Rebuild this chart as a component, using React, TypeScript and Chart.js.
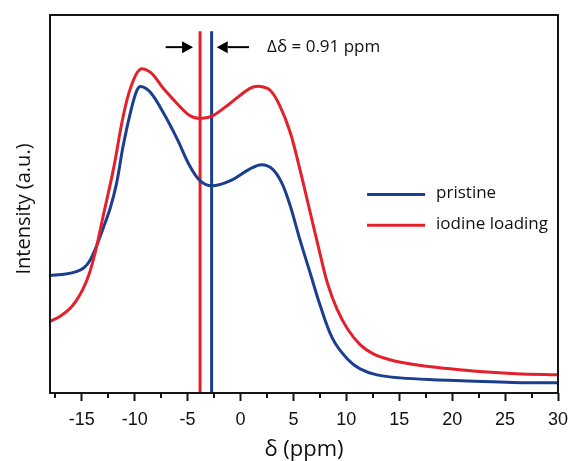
import React, { useEffect, useRef } from "react";
import { Chart, registerables } from "chart.js";
Chart.register(...registerables);

// ---- data ----
const pristineX = [-18, -16.5, -15.5, -14.8, -14.2, -13.6, -13.0, -12.3, -11.7, -11.1, -10.4, -9.8, -9.4, -8.5, -7.3, -6.0, -4.8, -3.8, -2.7, -1.0, 0.9, 2.0, 3.0, 3.9, 4.7, 5.6, 6.6, 7.5, 8.7, 10.1, 11.3, 12.9, 15.1, 18.2, 21.4, 24.5, 27.0, 30];
const pristineY = [0.311, 0.315, 0.321, 0.331, 0.352, 0.389, 0.434, 0.49, 0.556, 0.652, 0.742, 0.8, 0.811, 0.795, 0.742, 0.673, 0.601, 0.561, 0.548, 0.561, 0.593, 0.604, 0.593, 0.556, 0.495, 0.407, 0.316, 0.234, 0.144, 0.09, 0.064, 0.048, 0.04, 0.035, 0.032, 0.029, 0.027, 0.027];
const iodineX = [-18, -17, -16.1, -15.5, -14.9, -14.3, -13.7, -13.0, -12.0, -11.1, -10.4, -9.5, -8.5, -7.3, -6.0, -4.8, -3.8, -2.6, -1.0, 0.9, 1.85, 2.8, 3.7, 4.7, 5.6, 6.6, 7.5, 8.2, 9.1, 10.1, 11.3, 12.5, 14.1, 16.7, 19.8, 22.9, 26, 30];
const iodineY = [0.189, 0.204, 0.224, 0.245, 0.274, 0.315, 0.375, 0.465, 0.593, 0.73, 0.806, 0.856, 0.848, 0.806, 0.766, 0.734, 0.726, 0.734, 0.766, 0.806, 0.811, 0.801, 0.761, 0.689, 0.593, 0.476, 0.37, 0.292, 0.223, 0.17, 0.128, 0.104, 0.088, 0.074, 0.064, 0.056, 0.051, 0.048];
const seriesLabels = ["pristine", "iodine loading"];
const peakShifts = [-2.73, -3.82]; // pristine, iodine loading
const shiftLabel = "Δδ = 0.91 ppm";
const xTickValues = [-15, -10, -5, 0, 5, 10, 15, 20, 25, 30];
const xMinorTicks = [-17.5, -12.5, -7.5, -2.5, 2.5, 7.5, 12.5, 17.5, 22.5, 27.5];
const yAxisTitle = "Intensity (a.u.)";

const BLUE = "#1b3f8e";
const RED = "#e4202a";
const INK = "#151515";

const toPoints = (xs: number[], ys: number[]) => xs.map((x, i) => ({ x, y: ys[i] }));

const annotations = {
  id: "annotations",
  afterDatasetsDraw(chart: any) {
    const { ctx, chartArea, scales } = chart;
    const xs = scales.x;
    const ys = scales.y;
    ctx.save();
    // frame
    ctx.strokeStyle = INK;
    ctx.lineWidth = 2;
    ctx.strokeRect(chartArea.left, chartArea.top, chartArea.right - chartArea.left, chartArea.bottom - chartArea.top);
    // minor ticks
    ctx.beginPath();
    xMinorTicks.forEach((v) => {
      const px = Math.round(xs.getPixelForValue(v));
      ctx.moveTo(px, chartArea.bottom);
      ctx.lineTo(px, chartArea.bottom + 5);
    });
    ctx.stroke();

    // y axis title
    ctx.save();
    ctx.translate(24, 209);
    ctx.rotate(-Math.PI / 2);
    ctx.fillStyle = "#111";
    ctx.font = "20px 'Open Sans'";
    ctx.textAlign = "center";
    ctx.textBaseline = "middle";
    ctx.fillText(yAxisTitle, 0, 0);
    ctx.restore();

    // arrows
    const ay = ys.getPixelForValue(0.915);
    const drawArrow = (fromX: number, toX: number) => {
      const x1 = xs.getPixelForValue(fromX);
      const x2 = xs.getPixelForValue(toX);
      const dir = Math.sign(x2 - x1);
      const head = 11;
      ctx.strokeStyle = "#000";
      ctx.fillStyle = "#000";
      ctx.lineWidth = 2;
      ctx.beginPath();
      ctx.moveTo(x1, ay);
      ctx.lineTo(x2 - dir * head, ay);
      ctx.stroke();
      ctx.beginPath();
      ctx.moveTo(x2, ay);
      ctx.lineTo(x2 - dir * head, ay - 6);
      ctx.lineTo(x2 - dir * head, ay + 6);
      ctx.closePath();
      ctx.fill();
    };
    drawArrow(-7.07, -4.48);
    drawArrow(0.81, -2.25);
    ctx.fillStyle = "#111";
    ctx.font = "17px 'Open Sans'";
    ctx.textBaseline = "middle";
    ctx.textAlign = "left";
    ctx.fillText(shiftLabel, xs.getPixelForValue(2.51), ay);

    // legend
    const lx1 = xs.getPixelForValue(11.96);
    const lx2 = xs.getPixelForValue(17.44);
    const tx = xs.getPixelForValue(18.48);
    const legendY = [0.525, 0.444];
    const colors = [BLUE, RED];
    seriesLabels.forEach((label, i) => {
      const py = ys.getPixelForValue(legendY[i]);
      ctx.strokeStyle = colors[i];
      ctx.lineWidth = 3;
      ctx.beginPath();
      ctx.moveTo(lx1, py);
      ctx.lineTo(lx2, py);
      ctx.stroke();
      ctx.fillStyle = "#111";
      ctx.font = "17px 'Open Sans'";
      ctx.fillText(label, tx, py - 1);
    });
    ctx.restore();
  },
};

export default function App() {
  const ref = useRef<HTMLCanvasElement | null>(null);
  useEffect(() => {
    if (!ref.current) return;
    const chart = new Chart(ref.current, {
      type: "line",
      data: {
        datasets: [
          {
            label: seriesLabels[1],
            data: toPoints(iodineX, iodineY),
            borderColor: RED,
            borderWidth: 3,
            pointRadius: 0,
            tension: 0.35,
          },
          {
            label: seriesLabels[0],
            data: toPoints(pristineX, pristineY),
            borderColor: BLUE,
            borderWidth: 3,
            pointRadius: 0,
            tension: 0.35,
          },
          {
            label: "iodine shift",
            data: [{ x: peakShifts[1], y: 0 }, { x: peakShifts[1], y: 0.957 }],
            borderColor: RED,
            borderWidth: 3,
            pointRadius: 0,
          },
          {
            label: "pristine shift",
            data: [{ x: peakShifts[0], y: 0 }, { x: peakShifts[0], y: 0.957 }],
            borderColor: BLUE,
            borderWidth: 3,
            pointRadius: 0,
          },
        ],
      },
      options: {
        responsive: false,
        animation: false,
        layout: { padding: { left: 50, top: 15, right: 15, bottom: 0 } },
        plugins: { legend: { display: false }, tooltip: { enabled: false } },
        scales: {
          x: {
            type: "linear",
            min: -18,
            max: 30,
            afterBuildTicks: (s: any) => {
              s.ticks = xTickValues.map((v) => ({ value: v }));
            },
            afterFit: (s: any) => {
              s.paddingLeft = 0;
              s.paddingRight = 0;
            },
            grid: { display: true, drawOnChartArea: false, drawTicks: true, tickLength: 8, tickWidth: 2, tickColor: INK },
            border: { display: false },
            ticks: {
              font: { family: "'Liberation Sans', Arial, sans-serif", size: 18, lineHeight: 1 },
              color: "#111",
              padding: 10,
              maxRotation: 0,
              autoSkip: false,
            },
            title: {
              display: true,
              text: "δ (ppm)",
              color: "#111",
              font: { family: "'Open Sans', sans-serif", size: 22, lineHeight: 1 },
              padding: { top: 0, bottom: 0 },
            },
          },
          y: {
            display: false,
            min: 0,
            max: 1,
          },
        },
      },
      plugins: [annotations],
    });
    return () => chart.destroy();
  }, []);
  return (
    <div style={{ position: "fixed", left: 0, top: 0, width: 573, height: 461, background: "#fff" }}>
      <canvas ref={ref} width={573} height={461} />
    </div>
  );
}
